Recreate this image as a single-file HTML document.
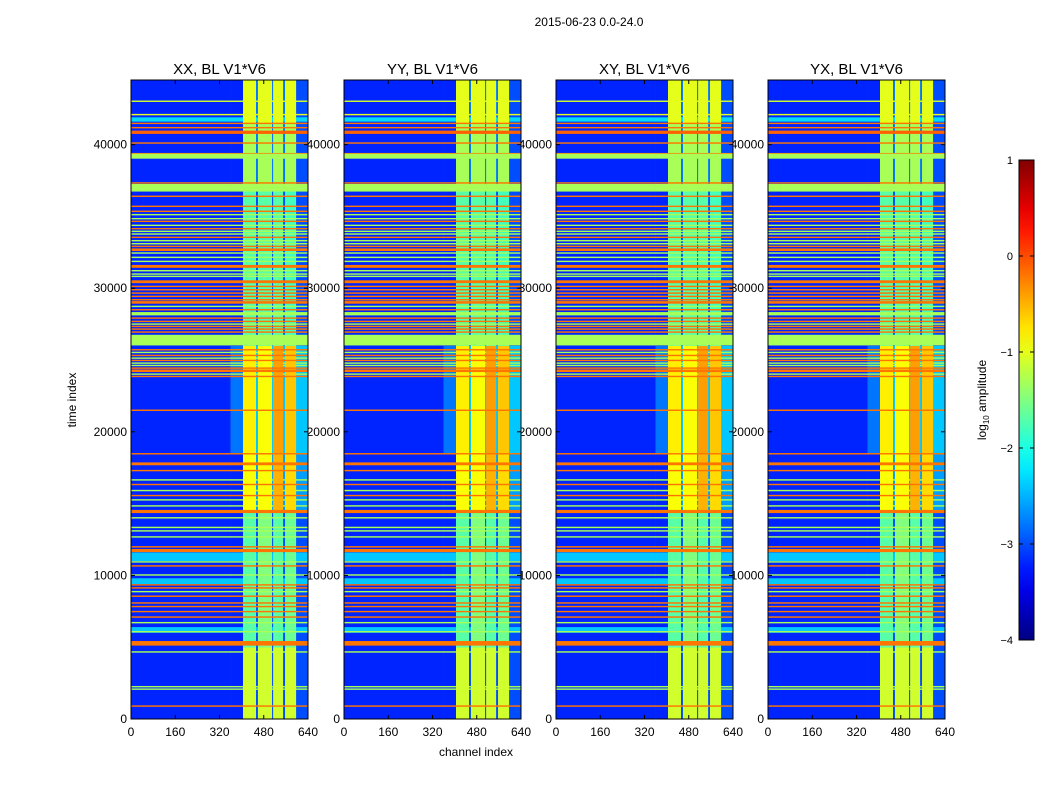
<!DOCTYPE html>
<html><head><meta charset="utf-8">
<style>
html,body{margin:0;padding:0;background:#fff;}
svg{display:block;font-family:"Liberation Sans",sans-serif;}
</style></head>
<body>
<svg id="fig" width="1050" height="800" viewBox="0 0 1050 800">
<text x="589" y="26" font-size="12" text-anchor="middle">2015-06-23 0.0-24.0</text>
<g id="labels"></g>
<g id="panels"></g>
<g id="cbar"></g>
</svg>
<script>
// ---- data ----
const panelTitles = ["XX, BL V1*V6","YY, BL V1*V6","XY, BL V1*V6","YX, BL V1*V6"];
const xTicks = [0,160,320,480,640];
const yTicks = [0,10000,20000,30000,40000];
const cbarTicks = [1,0,-1,-2,-3,-4];
const tMax = 44500, chMax = 640, vMin = -4, vMax = 1;
const bg = -3.2;
const chanEdges = [0,360,405,452,459,510,514,550,557,597,640];
const regionEdges = [0,5000,14500,18500,26000,37000,41500,44500];
const regionLevels = [
 [bg,bg,-1.1,-3.0,-1.1,-3.0,-1.1,-3.0,-1.1,-3.0],
 [bg,bg,-1.7,-3.0,-1.5,-3.0,-1.7,-3.0,-1.6,-3.0],
 [bg,bg,-0.9,-2.6,-0.9,-2.6,-0.5,-2.6,-0.7,-2.6],
 [bg,-2.8,-0.8,-2.4,-0.9,-2.4,-0.4,-2.4,-0.6,-2.4],
 [bg,bg,-1.7,-3.0,-1.7,-3.0,-1.7,-3.0,-1.8,-3.0],
 [bg,bg,-1.3,-2.8,-1.3,-2.8,-1.3,-2.8,-1.3,-3.0],
 [bg,bg,-1.0,-2.8,-1.0,-2.8,-1.0,-2.8,-1.0,-3.0]
];
const lineTimes = [43020,42090,41750,41480,41180,40860,40110,39370,39195,37330,36995,36400,
 35702,35354,35122,34843,34657,34378,34146,33960,33774,33542,33310,33100,32914,32682,32450,32148,31869,31521,31219,30986,30824,30450,30127,29894,29662,29430,29198,29012,28733,28500,28222,27920,27688,27502,27340,27154,26945,26386,25713,25527,25318,25132,24970,24784,24621,24436,24250,24018,23855,
 21500,18470,17770,17300,16650,16330,15910,15560,15260,14840,14450,14010,13340,13100,12680,11990,11730,11300,10940,10660,10030,9600,9340,9130,8870,8550,8080,7830,7480,7100,6710,6200,6080,5270,4670,2250,2080,900];
const lineLevels = [-1.1,-1.0,-2.3,-0.2,-0.2,-0.1,-0.2,-0.2,-1.3,-0.2,-1.3,-0.2,
 -0.2,-0.2,-1.3,-1.3,-0.2,-1.3,-0.2,-1.3,-1.3,-0.2,-1.3,-1.3,-0.2,-0.2,-1.3,-1.3,-1.3,-0.2,-1.3,-1.3,-1.3,-0.2,-0.2,-0.2,-0.2,-0.2,-0.2,-0.2,-1.3,-0.2,-1.3,-0.2,-0.2,-1.3,-0.2,-0.2,-0.2,-1.3,-0.2,-1.3,-0.2,-1.3,-0.2,-1.3,-1.3,-0.2,-0.2,-1.3,-0.2,
 -0.2,-0.2,-0.2,-0.2,-1.3,-0.2,-1.3,-0.2,-1.3,-1.3,-0.2,-1.3,-1.3,-1.3,-1.3,-0.2,-0.2,-2.4,-1.3,-0.2,-1.3,-2.4,-0.2,-0.2,-1.3,-0.2,-0.2,-0.2,-0.2,-0.2,-1.3,-2.4,-1.3,-0.2,-1.3,-1.3,-1.3,-0.2];
const lineWidths = [100,100,300,100,100,230,100,100,350,100,530,100,
 100,100,100,100,100,100,100,100,100,100,100,100,100,180,100,100,100,200,100,100,100,200,100,100,100,100,100,180,100,100,232,100,100,100,100,100,100,743,100,100,100,100,100,100,100,100,180,100,100,
 100,100,200,100,100,100,100,100,100,100,220,100,100,100,100,100,220,600,100,100,100,400,100,100,100,100,100,100,100,100,100,400,100,320,100,100,100,100];
const panelX = [131,344,556,768];
const panelW = 177, panelTop = 80, panelBot = 719;

// ---- helpers ----
const NS = "http://www.w3.org/2000/svg";
function el(tag, attrs, parent){const e=document.createElementNS(NS,tag);for(const k in attrs)e.setAttribute(k,attrs[k]);parent.appendChild(e);return e;}
function clip(v){return Math.max(0,Math.min(1,v));}
function jet(v){const x=clip((v-vMin)/(vMax-vMin));const r=clip(1.5-Math.abs(4*x-3)),g=clip(1.5-Math.abs(4*x-2)),b=clip(1.5-Math.abs(4*x-1));return `rgb(${Math.round(r*255)},${Math.round(g*255)},${Math.round(b*255)})`;}
const yScale = t => panelBot - t/tMax*(panelBot-panelTop);
function xScaleFor(px){return c => px + c/chMax*panelW;}
function regionAt(t){for(let i=0;i<regionEdges.length-1;i++){if(t>=regionEdges[i]&&t<regionEdges[i+1])return i;}return regionEdges.length-2;}

const labels=document.getElementById('labels'), panels=document.getElementById('panels'), cb=document.getElementById('cbar');

panelX.forEach((px,pi)=>{
  const xs = xScaleFor(px);
  const t = el('text',{x:px+panelW/2,y:74,'font-size':15,'text-anchor':'middle'},labels);
  
  
  t.textContent = panelTitles[pi];
  yTicks.forEach(v=>{
    const l=el('text',{x:px-4,y:yScale(v)+4,'font-size':12,'text-anchor':'end'},labels);
    
    
    l.textContent=v;
  });
  xTicks.forEach(v=>{
    const l=el('text',{x:xs(v),y:736,'font-size':12,'text-anchor':'middle'},labels);
    
    
    l.textContent=v;
  });
  const g = el('g',{},panels);
  
  
  for(let r=0;r<regionEdges.length-1;r++){
    for(let c=0;c<chanEdges.length-1;c++){
      const y0=yScale(regionEdges[r+1]), y1=yScale(regionEdges[r]);
      const cell=el('rect',{x:xs(chanEdges[c]),y:y0,width:xs(chanEdges[c+1])-xs(chanEdges[c])+0.3,height:y1-y0+0.3,fill:jet(regionLevels[r][c])},g);
      
      
    }
  }
  lineTimes.forEach((lt,i)=>{
    const r=regionAt(lt);
    const y0=yScale(lt+lineWidths[i]/2), y1=yScale(lt-lineWidths[i]/2);
    for(let c=0;c<chanEdges.length-1;c++){
      const v=Math.max(lineLevels[i], regionLevels[r][c]);
      const s=el('rect',{x:xs(chanEdges[c]),y:y0,width:xs(chanEdges[c+1])-xs(chanEdges[c])+0.3,height:Math.max(1,y1-y0),fill:jet(v)},g);
      
      
    }
  });
  const fr=el('rect',{x:px,y:panelTop,width:panelW,height:panelBot-panelTop,fill:'none',stroke:'#000','stroke-width':1},g);
  
  
  xTicks.forEach(v=>{
    el('line',{x1:xs(v),x2:xs(v),y1:panelBot,y2:panelBot-4,stroke:'#000'},g);
    el('line',{x1:xs(v),x2:xs(v),y1:panelTop,y2:panelTop+4,stroke:'#000'},g);
  });
  yTicks.forEach(v=>{
    el('line',{x1:px,x2:px+4,y1:yScale(v),y2:yScale(v),stroke:'#000'},g);
    el('line',{x1:px+panelW,x2:px+panelW-4,y1:yScale(v),y2:yScale(v),stroke:'#000'},g);
  });
});

const xl=el('text',{x:476,y:756,'font-size':12,'text-anchor':'middle'},labels);


xl.textContent='channel index';
const yl=el('text',{x:76,y:400,'font-size':12,'text-anchor':'middle',transform:'rotate(-90 76 400)'},labels);


yl.textContent='time index';

const cbTop=160, cbBot=640, cbX=1019, cbW=15;
const cbScale = v => cbBot - (v-vMin)/(vMax-vMin)*(cbBot-cbTop);
const defs=el('defs',{},cb);
const grad=el('linearGradient',{id:'jetg',x1:0,y1:1,x2:0,y2:0},defs);
for(let i=0;i<=20;i++){el('stop',{offset:i/20,'stop-color':jet(vMin+(vMax-vMin)*i/20)},grad);}
const bar=el('rect',{x:cbX,y:cbTop,width:cbW,height:cbBot-cbTop,fill:'url(#jetg)',stroke:'#000'},cb);


cbarTicks.forEach(v=>{
  el('line',{x1:cbX,x2:cbX+4,y1:cbScale(v),y2:cbScale(v),stroke:'#000'},cb);
  el('line',{x1:cbX+cbW,x2:cbX+cbW-4,y1:cbScale(v),y2:cbScale(v),stroke:'#000'},cb);
  const l=el('text',{x:1013,y:cbScale(v)+4,'font-size':11,'text-anchor':'end'},cb);
  
  
  l.textContent=(v<0?'\u2212'+(-v):v);
});
const cl=el('text',{x:986,y:400,'font-size':12,'text-anchor':'middle',transform:'rotate(-90 986 400)'},cb);


cl.innerHTML='log<tspan font-size="8" dy="3">10</tspan><tspan dy="-3"> amplitude</tspan>';
</script>
</body></html>
